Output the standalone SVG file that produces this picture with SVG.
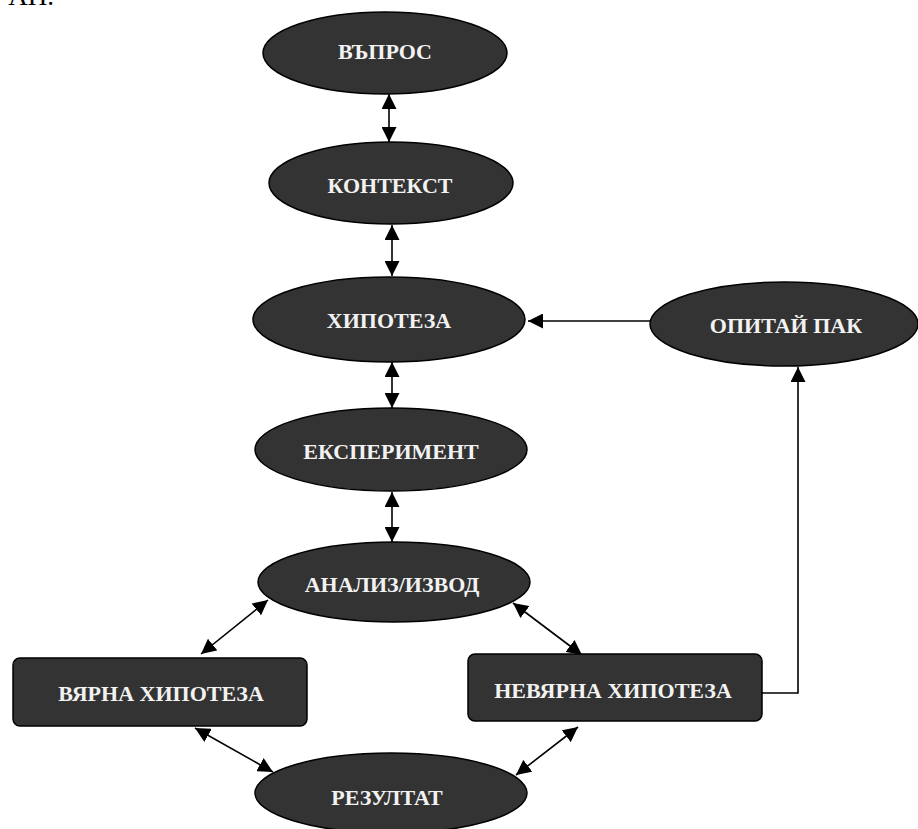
<svg xmlns="http://www.w3.org/2000/svg" width="918" height="829" viewBox="0 0 918 829">
<style>
.n{fill:#333333;stroke:#000;stroke-width:1.5}
.t{font-family:"Liberation Serif","Times New Roman",serif;font-weight:bold;font-size:22px;fill:#f2f2f2;text-anchor:middle}
.c{stroke:#000;stroke-width:1.6;fill:none}
</style>
<defs>
<marker id="ah" markerUnits="userSpaceOnUse" markerWidth="15" markerHeight="15" viewBox="0 0 14 14" refX="14" refY="7" orient="auto-start-reverse">
<path d="M0,0 L14,7 L0,14 z" fill="#000"/>
</marker>
</defs>
<rect width="918" height="829" fill="#fff"/>
<text x="54" y="5" font-family="Liberation Serif,serif" font-size="27" fill="#000" text-anchor="end">АН.</text>
<g id="connectors">
<line class="c" x1="389" y1="94" x2="389" y2="142" marker-start="url(#ah)" marker-end="url(#ah)"/>
<line class="c" x1="392" y1="225" x2="392" y2="276" marker-start="url(#ah)" marker-end="url(#ah)"/>
<line class="c" x1="392" y1="362" x2="392" y2="408" marker-start="url(#ah)" marker-end="url(#ah)"/>
<line class="c" x1="392" y1="492" x2="392" y2="542" marker-start="url(#ah)" marker-end="url(#ah)"/>
<line class="c" x1="650" y1="321" x2="528" y2="321" marker-end="url(#ah)"/>
<path class="c" d="M762,693 H798 V367" marker-end="url(#ah)"/>
<line class="c" x1="268" y1="600" x2="201" y2="654" marker-start="url(#ah)" marker-end="url(#ah)"/>
<line class="c" x1="513" y1="603" x2="582" y2="655" marker-start="url(#ah)" marker-end="url(#ah)"/>
<line class="c" x1="195" y1="728" x2="273" y2="772" marker-start="url(#ah)" marker-end="url(#ah)"/>
<line class="c" x1="578" y1="727" x2="516" y2="775" marker-start="url(#ah)" marker-end="url(#ah)"/>
</g>
<g id="vapros"><ellipse class="n" cx="385" cy="53" rx="122" ry="41"/><text class="t" x="385" y="59">ВЪПРОС</text></g>
<g id="kontekst"><ellipse class="n" cx="391" cy="183" rx="122" ry="41"/><text class="t" x="390" y="193">КОНТЕКСТ</text></g>
<g id="hipoteza"><ellipse class="n" cx="389" cy="319.5" rx="136" ry="42.5"/><text class="t" x="389" y="328">ХИПОТЕЗА</text></g>
<g id="opitai"><ellipse class="n" cx="784" cy="324" rx="134" ry="42"/><text class="t" x="786" y="333">ОПИТАЙ ПАК</text></g>
<g id="eksperiment"><ellipse class="n" cx="391" cy="449.5" rx="136" ry="41.5"/><text class="t" x="391" y="459">ЕКСПЕРИМЕНТ</text></g>
<g id="analiz"><ellipse class="n" cx="394" cy="582" rx="136" ry="40"/><text class="t" x="392" y="592">АНАЛИЗ/ИЗВОД</text></g>
<g id="vyarna"><rect class="n" x="13" y="658" width="294" height="68" rx="7"/><text class="t" x="161" y="701">ВЯРНА ХИПОТЕЗА</text></g>
<g id="nevyarna"><rect class="n" x="468" y="654" width="294" height="67" rx="7"/><text class="t" x="613" y="698">НЕВЯРНА ХИПОТЕЗА</text></g>
<g id="rezultat"><ellipse class="n" cx="391" cy="793" rx="136" ry="40"/><text class="t" x="387" y="805">РЕЗУЛТАТ</text></g>
</svg>
